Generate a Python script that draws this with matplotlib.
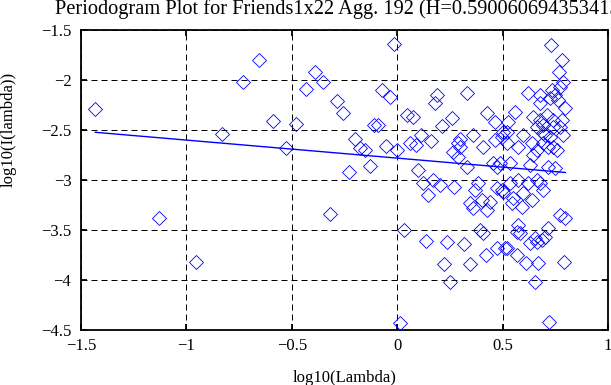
import matplotlib
matplotlib.use("Agg")
import matplotlib.pyplot as plt

# ---------------- data ----------------
log_lambda = [
    -1.432, -1.131, -0.955, -0.830, -0.733, -0.654, -0.587, -0.529, -0.478, -0.432,
    -0.391, -0.353, -0.318, -0.286, -0.256, -0.228, -0.202, -0.177, -0.153, -0.131,
    -0.110, -0.090, -0.070, -0.052, -0.034, -0.017, -0.001, 0.015, 0.030, 0.045,
    0.059, 0.073, 0.087, 0.099, 0.112, 0.124, 0.136, 0.148, 0.159, 0.170,
    0.181, 0.191, 0.201, 0.211, 0.221,
    0.238, 0.250, 0.258, 0.266, 0.271, 0.290, 0.290, 0.298, 0.298, 0.317,
    0.330, 0.333, 0.345, 0.345, 0.361, 0.361, 0.369, 0.385, 0.393, 0.400,
    0.408, 0.408, 0.421, 0.424, 0.427, 0.440, 0.456, 0.464, 0.464, 0.472,
    0.472, 0.475, 0.488, 0.496, 0.496, 0.503, 0.504, 0.511, 0.519, 0.519,
    0.519, 0.527, 0.535, 0.535, 0.543, 0.551, 0.559, 0.567, 0.567, 0.574,
    0.574, 0.574, 0.583, 0.590, 0.598, 0.598, 0.611, 0.619, 0.622, 0.630,
    0.630, 0.638, 0.638, 0.646, 0.646, 0.654, 0.654, 0.661, 0.661, 0.661,
    0.661, 0.669, 0.677, 0.677, 0.677, 0.677, 0.685, 0.693, 0.693, 0.693,
    0.693, 0.701, 0.701, 0.709, 0.717, 0.717, 0.717, 0.722, 0.725, 0.725,
    0.728, 0.733, 0.740, 0.740, 0.740, 0.749, 0.749, 0.757, 0.764, 0.769,
    0.772, 0.772, 0.772, 0.780, 0.783, 0.788, 0.788, 0.791, 0.796, 0.798,
]
log_I = [
    -2.29, -3.38, -3.82, -2.54, -2.02, -1.80, -2.41, -2.68, -2.44, -2.09,
    -1.92, -2.02, -3.34, -2.21, -2.33, -2.92, -2.59, -2.68, -2.70, -2.86,
    -2.45, -2.45, -2.10, -2.66, -2.17, -1.64, -2.70, -4.43, -3.50, -2.35,
    -2.63, -2.37, -2.65, -2.90, -2.55, -3.03, -3.61, -3.15, -2.61, -3.00,
    -2.23, -2.15, -3.05, -2.46, -3.84,
    -3.62, -4.02, -2.38, -2.72, -3.07, -2.63, -2.77, -2.67, -2.59, -3.64,
    -2.87, -2.13, -3.23, -3.84, -2.55, -3.28, -3.10, -3.03, -3.50, -3.20,
    -2.67, -3.53, -3.75, -3.30, -2.33, -3.22, -2.83, -2.42, -2.60, -2.87,
    -3.08, -3.68, -2.83, -3.10, -2.57, -3.12, -2.52, -3.68, -2.52, -2.63,
    -3.68, -2.42, -2.83, -3.03, -3.23, -3.18, -2.32, -3.52, -3.75, -2.67,
    -3.00, -3.45, -3.53, -3.27, -2.55, -3.13, -3.83, -2.13, -3.03, -2.85,
    -3.63, -2.63, -3.20, -2.37, -2.75, -3.58, -4.02, -2.47, -2.70, -3.00,
    -3.62, -3.83, -2.15, -2.23, -2.40, -3.03, -3.60, -2.45, -2.53, -2.63,
    -3.10, -2.55, -3.57, -2.35, -2.67, -2.87, -3.48, -4.42, -2.18, -2.57,
    -1.65, -2.10, -2.40, -2.47, -2.67, -2.15, -2.88, -2.70, -2.20, -1.92,
    -2.07, -2.47, -3.35, -2.40, -1.80, -2.02, -2.55, -3.82, -3.38, -2.28,
]
fit_x = [-1.432, 0.798]
fit_y = [-2.523, -2.925]

title_text = "Periodogram Plot for Friends1x22 Agg. 192 (H=0.590060694353413)"
x_label = "log10(Lambda)"
y_label = "log10(I(lambda))"
x_ticks = [-1.5, -1, -0.5, 0, 0.5, 1]
x_tick_labels = ["\u22121.5", "\u22121", "\u22120.5", "0", "0.5", "1"]
y_ticks = [-4.5, -4, -3.5, -3, -2.5, -2, -1.5]
y_tick_labels = ["\u22124.5", "\u22124", "\u22123.5", "\u22123", "\u22122.5", "\u22122", "\u22121.5"]

# ---------------- figure ----------------
plt.rcParams['font.family'] = ['Liberation Serif', 'DejaVu Serif']
W, H = 611, 385
fig = plt.figure(figsize=(W / 100, H / 100), dpi=100)
ax = fig.add_axes([81 / W, 55 / H, 527 / W, 300 / H])

ax.plot(log_lambda, log_I, linestyle='none', marker='D', markersize=7,
        markerfacecolor='none', markeredgecolor='#0000ff', markeredgewidth=0.6,
        zorder=3)
ax.plot(fit_x, fit_y, color='#0000ff', linewidth=1.0, zorder=4)

ax.set_xlim(-1.5, 1)
ax.set_ylim(-4.5, -1.5)
ax.set_xticks(x_ticks)
ax.set_xticklabels(x_tick_labels)
ax.set_yticks(y_ticks)
ax.set_yticklabels(y_tick_labels)

ax.grid(True, color='black', linewidth=0.72, linestyle=(0, (6, 4)))
ax.set_axisbelow(True)
for s in ax.spines.values():
    s.set_linewidth(1.3)
    s.set_color('black')
ax.tick_params(direction='in', length=4.5, width=1.3, top=True, right=True,
               labelsize=12, colors='black')
ax.tick_params(axis='x', pad=5.5)
ax.tick_params(axis='y', pad=7)

ax.set_xlabel(x_label, fontsize=12, labelpad=12)
ax.set_ylabel(y_label, fontsize=12)
ax.yaxis.set_label_coords(-0.123, 0.667)

# the reference title runs past the right edge of the figure
fig.text(55 / W, 1 - 14 / H, title_text, fontsize=14.7, ha='left',
         va='baseline')

fig.savefig("out.png", dpi=100)
